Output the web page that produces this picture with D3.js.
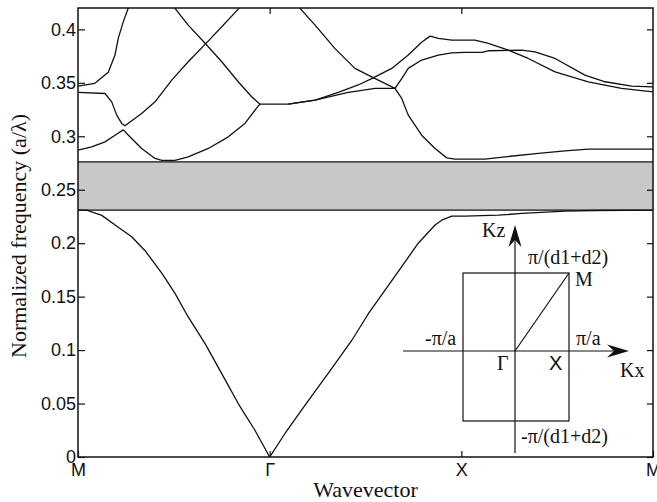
<!DOCTYPE html>
<html><head><meta charset="utf-8">
<script src="https://cdn.jsdelivr.net/npm/d3@7"></script>
<style>body{margin:0;background:#fff} svg{display:block}</style>
</head><body><svg id="c" width="657" height="502"></svg>
<script>
// ---- data ----
const xTickLabels = ["M", "Γ", "X", "M"];
const xTickValues = [0, 1, 2, 3];
const yTickValues = [0, 0.05, 0.1, 0.15, 0.2, 0.25, 0.3, 0.35, 0.4];
const gapBand = [0.231, 0.276];

const band1 = [[0,0.231],[0.045,0.231],[0.124,0.226],[0.210,0.215],[0.280,0.206],[0.350,0.193],[0.437,0.172],[0.506,0.153],[0.575,0.131],[0.663,0.106],[0.750,0.078],[0.836,0.050],[0.923,0.025],[1.0,0.0],[1.080,0.022],[1.167,0.044],[1.254,0.0655],[1.341,0.087],[1.428,0.109],[1.515,0.134],[1.602,0.156],[1.689,0.178],[1.775,0.200],[1.863,0.217],[1.898,0.2215],[1.950,0.2253],[2.019,0.2253],[2.193,0.2262],[2.315,0.2278],[2.541,0.230],[2.697,0.2306],[3.0,0.231]];
const band2 = [[0,0.287],[0.071,0.290],[0.141,0.2948],[0.193,0.301],[0.236,0.306],[0.271,0.2995],[0.332,0.2886],[0.402,0.2793],[0.437,0.2774],[0.506,0.2774],[0.575,0.2808],[0.680,0.2886],[0.784,0.2995],[0.871,0.312],[0.941,0.3285],[0.950,0.330],[1.097,0.330],[1.237,0.3338],[1.410,0.341],[1.550,0.3448],[1.654,0.3448],[1.689,0.354],[1.723,0.3635],[1.793,0.3713],[1.880,0.376],[1.950,0.3781],[2.019,0.3785],[2.106,0.3785],[2.141,0.380],[2.315,0.3806],[2.384,0.379],[2.489,0.3728],[2.645,0.3572],[2.750,0.351],[2.889,0.347],[3.0,0.3463]];
const band3 = [[0,0.341],[0.141,0.340],[0.176,0.3322],[0.202,0.3198],[0.228,0.312],[0.245,0.3098],[0.332,0.3214],[0.402,0.3322],[0.489,0.3525],[0.575,0.3697],[0.663,0.386],[0.750,0.4024],[0.836,0.419],[0.86,0.424]];
const band4 = [[0,0.347],[0.088,0.3495],[0.158,0.360],[0.193,0.376],[0.210,0.3916],[0.236,0.407],[0.262,0.4197],[0.27,0.426]];
const band5 = [[0.49,0.426],[0.506,0.4197],[0.575,0.404],[0.663,0.387],[0.750,0.3697],[0.836,0.351],[0.906,0.337],[0.950,0.330]];
const band6 = [[1.15,0.426],[1.158,0.4197],[1.237,0.404],[1.341,0.382],[1.445,0.3635],[1.532,0.3556],[1.654,0.3448],[1.689,0.3354],[1.723,0.3198],[1.793,0.301],[1.863,0.2886],[1.924,0.2798],[1.967,0.2786],[2.123,0.2786],[2.228,0.2808],[2.402,0.284],[2.541,0.2864],[2.662,0.288],[3.0,0.288]];
const band7 = [[1.097,0.330],[1.237,0.3338],[1.358,0.341],[1.462,0.348],[1.532,0.354],[1.637,0.3635],[1.723,0.376],[1.793,0.388],[1.837,0.3937],[1.880,0.3916],[1.950,0.390],[2.071,0.390],[2.141,0.3869],[2.245,0.3806],[2.349,0.3728],[2.489,0.3603],[2.662,0.351],[2.836,0.3448],[3.0,0.3416]];
const bands = [band1, band2, band3, band4, band5, band6, band7];

// ---- layout ----
const plot = {left: 78, right: 653, top: 8, bottom: 457};
const svg = d3.select("#c");
const sans = "'Liberation Sans', Arial, sans-serif";
const serif = "'Liberation Serif', 'Times New Roman', serif";

const x = d3.scaleLinear().domain([0, 3]).range([plot.left, plot.right]);
const y = d3.scaleLinear().domain([0, 0.42]).range([plot.bottom, plot.top]);

svg.append("clipPath").attr("id", "clip").append("rect")
  .attr("x", plot.left).attr("y", plot.top)
  .attr("width", plot.right - plot.left).attr("height", plot.bottom - plot.top);

// gap band
svg.append("rect")
  .attr("x", x(0)).attr("y", y(gapBand[1]))
  .attr("width", x(3) - x(0)).attr("height", y(gapBand[0]) - y(gapBand[1]))
  .attr("fill", "#c8c8c8");
gapBand.forEach(v => svg.append("line")
  .attr("x1", x(0)).attr("x2", x(3)).attr("y1", y(v)).attr("y2", y(v))
  .attr("stroke", "#111").attr("stroke-width", 1.3));

// bands
const line = d3.line().x(d => x(d[0])).y(d => y(d[1]));
svg.append("g").attr("clip-path", "url(#clip)")
  .selectAll("path").data(bands).join("path")
  .attr("d", line).attr("fill", "none")
  .attr("stroke", "#111").attr("stroke-width", 1.3).attr("stroke-linejoin", "round");

// axes
const fmt = d => String(+d.toFixed(2));
const gLeft = svg.append("g").attr("transform", `translate(${plot.left},0)`)
  .call(d3.axisLeft(y).tickValues(yTickValues).tickFormat(fmt).tickSizeInner(-7).tickSizeOuter(0).tickPadding(2));
const gRight = svg.append("g").attr("transform", `translate(${plot.right},0)`)
  .call(d3.axisRight(y).tickValues(yTickValues).tickFormat("").tickSizeInner(-6).tickSizeOuter(0));
const gTop = svg.append("g").attr("transform", `translate(0,${plot.top})`)
  .call(d3.axisTop(x).tickValues(xTickValues.slice(1, 3)).tickFormat("").tickSizeInner(-6).tickSizeOuter(0));
const gBottom = svg.append("g").attr("transform", `translate(0,${plot.bottom})`)
  .call(d3.axisBottom(x).tickValues(xTickValues).tickFormat(i => xTickLabels[i]).tickSizeInner(-6).tickSizeOuter(0).tickPadding(6));
[gLeft, gRight, gTop, gBottom].forEach(g => {
  g.select(".domain").remove();
  g.selectAll("line").attr("stroke", "#111").attr("stroke-width", 1.2);
  g.selectAll("text").attr("font-family", sans).attr("font-size", 18).attr("fill", "#111");
});

svg.append("rect")
  .attr("x", plot.left).attr("y", plot.top)
  .attr("width", plot.right - plot.left).attr("height", plot.bottom - plot.top)
  .attr("fill", "none").attr("stroke", "#111").attr("stroke-width", 1.5);

// axis titles
svg.append("text").attr("transform", `translate(26,236) rotate(-90)`)
  .attr("text-anchor", "middle").attr("font-family", serif).attr("font-size", 22).attr("fill", "#111")
  .text("Normalized frequency (a/λ)");
svg.append("text").attr("x", (plot.left + plot.right) / 2).attr("y", 497)
  .attr("text-anchor", "middle").attr("font-family", serif).attr("font-size", 22).attr("fill", "#111")
  .text("Wavevector");

// ---- inset: Brillouin zone sketch ----
const inset = {ox: 515, oy: 351, hL: -112, hR: 114, vT: -126, vB: 102, rL: -52, rR: 54, rT: -78, rB: 70};
const ig = svg.append("g").attr("transform", `translate(${inset.ox},${inset.oy})`)
  .attr("stroke", "#111").attr("stroke-width", 1.2).attr("fill", "none");
ig.append("line").attr("x1", inset.hL).attr("x2", inset.hR - 14).attr("y1", 0).attr("y2", 0);
ig.append("line").attr("x1", 0).attr("x2", 0).attr("y1", inset.vB).attr("y2", inset.vT + 14);
ig.append("rect").attr("x", inset.rL).attr("y", inset.rT)
  .attr("width", inset.rR - inset.rL).attr("height", inset.rB - inset.rT);
ig.append("line").attr("x1", 0).attr("y1", 0).attr("x2", inset.rR).attr("y2", inset.rT);
ig.append("path").attr("d", `M${inset.hR},0 L${inset.hR - 22},-6.5 L${inset.hR - 15},0 L${inset.hR - 22},6.5 Z`)
  .attr("fill", "#111").attr("stroke", "none");
ig.append("path").attr("d", `M0,${inset.vT} L-6.5,${inset.vT + 22} L0,${inset.vT + 15} L6.5,${inset.vT + 22} Z`)
  .attr("fill", "#111").attr("stroke", "none");

const labels = [
  {t: "Kz", x: -33, y: -114, f: serif},
  {t: "π/(d1+d2)", x: 13, y: -87, f: serif},
  {t: "M", x: 60, y: -65, f: serif},
  {t: "-π/a", x: -90, y: -6, f: serif},
  {t: "π/a", x: 61, y: -6, f: serif},
  {t: "Γ", x: -18, y: 19, f: serif},
  {t: "X", x: 34, y: 19, f: sans},
  {t: "Kx", x: 105, y: 26, f: serif},
  {t: "-π/(d1+d2)", x: 6, y: 92, f: serif}
];
svg.append("g").attr("transform", `translate(${inset.ox},${inset.oy})`)
  .selectAll("text").data(labels).join("text")
  .attr("x", d => d.x).attr("y", d => d.y).attr("text-anchor", "start")
  .attr("font-family", d => d.f).attr("font-size", 20).attr("fill", "#111")
  .text(d => d.t);
</script></body></html>
